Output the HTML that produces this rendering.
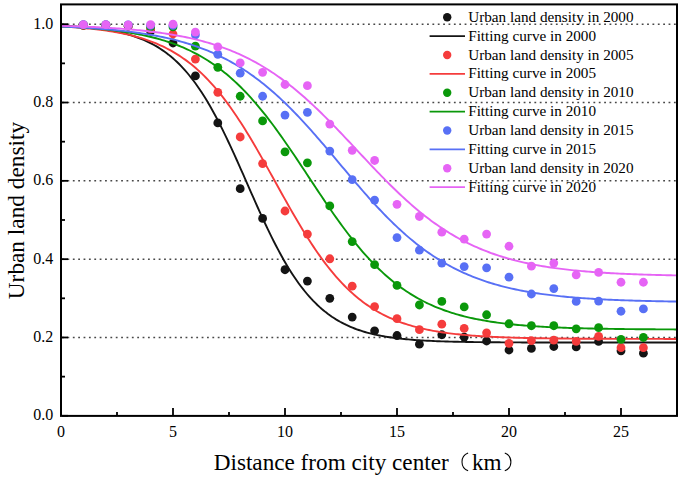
<!DOCTYPE html>
<html><head><meta charset="utf-8"><title>Urban land density</title><style>
html,body{margin:0;padding:0;background:#fff;}
body{width:685px;height:482px;overflow:hidden;}
svg{display:block;}
text{font-family:"Liberation Serif",serif;fill:#000;}
</style></head><body>
<svg width="685" height="482" viewBox="0 0 685 482">
<defs><clipPath id="pc"><rect x="62" y="5.4" width="614" height="409.5"/></clipPath></defs>
<g stroke="#484848" stroke-width="1.45" stroke-dasharray="1.8 3.567" fill="none">
<line x1="62.1" y1="337.48" x2="676" y2="337.48"/>
<line x1="62.1" y1="259.16" x2="676" y2="259.16"/>
<line x1="62.1" y1="180.84" x2="676" y2="180.84"/>
<line x1="62.1" y1="102.52" x2="676" y2="102.52"/>
<line x1="62.1" y1="24.20" x2="676" y2="24.20"/>
</g>
<g clip-path="url(#pc)">
<g fill="#141414"><circle cx="83.40" cy="25.37" r="4.4"/><circle cx="105.80" cy="25.37" r="4.4"/><circle cx="128.20" cy="26.16" r="4.4"/><circle cx="150.60" cy="31.25" r="4.4"/><circle cx="173.00" cy="43.00" r="4.4"/><circle cx="195.40" cy="75.89" r="4.4"/><circle cx="217.80" cy="122.88" r="4.4"/><circle cx="240.20" cy="188.67" r="4.4"/><circle cx="262.60" cy="218.43" r="4.4"/><circle cx="285.00" cy="269.73" r="4.4"/><circle cx="307.40" cy="281.09" r="4.4"/><circle cx="329.80" cy="298.32" r="4.4"/><circle cx="352.20" cy="317.12" r="4.4"/><circle cx="374.60" cy="330.82" r="4.4"/><circle cx="397.00" cy="335.52" r="4.4"/><circle cx="419.40" cy="344.14" r="4.4"/><circle cx="441.80" cy="334.74" r="4.4"/><circle cx="464.20" cy="337.09" r="4.4"/><circle cx="486.60" cy="341.00" r="4.4"/><circle cx="509.00" cy="350.01" r="4.4"/><circle cx="531.40" cy="348.44" r="4.4"/><circle cx="553.80" cy="346.49" r="4.4"/><circle cx="576.20" cy="346.88" r="4.4"/><circle cx="598.60" cy="341.40" r="4.4"/><circle cx="621.00" cy="350.79" r="4.4"/><circle cx="643.40" cy="353.14" r="4.4"/></g>
<polyline fill="none" stroke="#141414" stroke-width="1.9" stroke-linejoin="round" points="61.00,25.75 63.07,25.84 65.14,25.94 67.20,26.04 69.27,26.16 71.34,26.27 73.41,26.40 75.47,26.53 77.54,26.67 79.61,26.82 81.68,26.98 83.74,27.15 85.81,27.33 87.88,27.52 89.95,27.72 92.02,27.93 94.08,28.15 96.15,28.39 98.22,28.64 100.29,28.91 102.35,29.19 104.42,29.49 106.49,29.81 108.56,30.14 110.62,30.50 112.69,30.87 114.76,31.27 116.83,31.69 118.90,32.14 120.96,32.61 123.03,33.10 125.10,33.63 127.17,34.19 129.23,34.77 131.30,35.40 133.37,36.05 135.44,36.75 137.50,37.48 139.57,38.25 141.64,39.07 143.71,39.93 145.78,40.84 147.84,41.80 149.91,42.81 151.98,43.87 154.05,44.99 156.11,46.17 158.18,47.41 160.25,48.71 162.32,50.09 164.38,51.53 166.45,53.04 168.52,54.63 170.59,56.30 172.66,58.04 174.72,59.88 176.79,61.79 178.86,63.80 180.93,65.89 182.99,68.08 185.06,70.37 187.13,72.75 189.20,75.24 191.26,77.82 193.33,80.51 195.40,83.31 197.47,86.20 199.54,89.21 201.60,92.32 203.67,95.54 205.74,98.87 207.81,102.30 209.87,105.84 211.94,109.48 214.01,113.23 216.08,117.07 218.14,121.00 220.21,125.03 222.28,129.15 224.35,133.35 226.42,137.63 228.48,141.99 230.55,146.41 232.62,150.89 234.69,155.43 236.75,160.01 238.82,164.64 240.89,169.29 242.96,173.97 245.02,178.67 247.09,183.38 249.16,188.08 251.23,192.78 253.30,197.46 255.36,202.12 257.43,206.74 259.50,211.32 261.57,215.86 263.63,220.34 265.70,224.76 267.77,229.12 269.84,233.40 271.90,237.60 273.97,241.72 276.04,245.75 278.11,249.68 280.18,253.53 282.24,257.27 284.31,260.91 286.38,264.45 288.45,267.88 290.51,271.21 292.58,274.43 294.65,277.54 296.72,280.55 298.78,283.45 300.85,286.24 302.92,288.93 304.99,291.51 307.06,294.00 309.12,296.38 311.19,298.67 313.26,300.86 315.33,302.95 317.39,304.96 319.46,306.88 321.53,308.71 323.60,310.45 325.66,312.12 327.73,313.71 329.80,315.22 331.87,316.67 333.94,318.04 336.00,319.34 338.07,320.58 340.14,321.76 342.21,322.88 344.27,323.95 346.34,324.96 348.41,325.91 350.48,326.82 352.54,327.68 354.61,328.50 356.68,329.27 358.75,330.01 360.82,330.70 362.88,331.36 364.95,331.98 367.02,332.57 369.09,333.12 371.15,333.65 373.22,334.15 375.29,334.62 377.36,335.06 379.42,335.48 381.49,335.88 383.56,336.26 385.63,336.61 387.70,336.95 389.76,337.26 391.83,337.56 393.90,337.84 395.97,338.11 398.03,338.36 400.10,338.60 402.17,338.82 404.24,339.04 406.30,339.24 408.37,339.42 410.44,339.60 412.51,339.77 414.58,339.93 416.64,340.08 418.71,340.22 420.78,340.35 422.85,340.48 424.91,340.60 426.98,340.71 429.05,340.81 431.12,340.91 433.18,341.01 435.25,341.09 437.32,341.18 439.39,341.26 441.46,341.33 443.52,341.40 445.59,341.47 447.66,341.53 449.73,341.59 451.79,341.64 453.86,341.69 455.93,341.74 458.00,341.79 460.06,341.83 462.13,341.87 464.20,341.91 466.27,341.95 468.34,341.98 470.40,342.02 472.47,342.05 474.54,342.08 476.61,342.10 478.67,342.13 480.74,342.15 482.81,342.18 484.88,342.20 486.94,342.22 489.01,342.24 491.08,342.26 493.15,342.27 495.22,342.29 497.28,342.30 499.35,342.32 501.42,342.33 503.49,342.34 505.55,342.36 507.62,342.37 509.69,342.38 511.76,342.39 513.82,342.40 515.89,342.41 517.96,342.41 520.03,342.42 522.10,342.43 524.16,342.44 526.23,342.44 528.30,342.45 530.37,342.46 532.43,342.46 534.50,342.47 536.57,342.47 538.64,342.48 540.70,342.48 542.77,342.48 544.84,342.49 546.91,342.49 548.98,342.50 551.04,342.50 553.11,342.50 555.18,342.50 557.25,342.51 559.31,342.51 561.38,342.51 563.45,342.51 565.52,342.52 567.58,342.52 569.65,342.52 571.72,342.52 573.79,342.52 575.86,342.53 577.92,342.53 579.99,342.53 582.06,342.53 584.13,342.53 586.19,342.53 588.26,342.53 590.33,342.53 592.40,342.54 594.46,342.54 596.53,342.54 598.60,342.54 600.67,342.54 602.74,342.54 604.80,342.54 606.87,342.54 608.94,342.54 611.01,342.54 613.07,342.54 615.14,342.54 617.21,342.54 619.28,342.54 621.34,342.55 623.41,342.55 625.48,342.55 627.55,342.55 629.62,342.55 631.68,342.55 633.75,342.55 635.82,342.55 637.89,342.55 639.95,342.55 642.02,342.55 644.09,342.55 646.16,342.55 648.22,342.55 650.29,342.55 652.36,342.55 654.43,342.55 656.50,342.55 658.56,342.55 660.63,342.55 662.70,342.55 664.77,342.55 666.83,342.55 668.90,342.55 670.97,342.55 673.04,342.55 675.10,342.55 677.17,342.55 679.24,342.55"/>
<g fill="#F53C3C"><circle cx="83.40" cy="25.37" r="4.4"/><circle cx="105.80" cy="25.37" r="4.4"/><circle cx="128.20" cy="26.16" r="4.4"/><circle cx="150.60" cy="28.90" r="4.4"/><circle cx="173.00" cy="33.99" r="4.4"/><circle cx="195.40" cy="59.05" r="4.4"/><circle cx="217.80" cy="92.34" r="4.4"/><circle cx="240.20" cy="136.98" r="4.4"/><circle cx="262.60" cy="163.61" r="4.4"/><circle cx="285.00" cy="210.99" r="4.4"/><circle cx="307.40" cy="234.10" r="4.4"/><circle cx="329.80" cy="258.77" r="4.4"/><circle cx="352.20" cy="286.18" r="4.4"/><circle cx="374.60" cy="306.54" r="4.4"/><circle cx="397.00" cy="318.68" r="4.4"/><circle cx="419.40" cy="329.65" r="4.4"/><circle cx="441.80" cy="324.17" r="4.4"/><circle cx="464.20" cy="328.47" r="4.4"/><circle cx="486.60" cy="332.78" r="4.4"/><circle cx="509.00" cy="343.35" r="4.4"/><circle cx="531.40" cy="340.61" r="4.4"/><circle cx="553.80" cy="340.22" r="4.4"/><circle cx="576.20" cy="341.40" r="4.4"/><circle cx="598.60" cy="336.31" r="4.4"/><circle cx="621.00" cy="347.66" r="4.4"/><circle cx="643.40" cy="347.66" r="4.4"/></g>
<polyline fill="none" stroke="#F53C3C" stroke-width="1.9" stroke-linejoin="round" points="61.00,26.50 63.07,26.61 65.14,26.73 67.20,26.85 69.27,26.98 71.34,27.11 73.41,27.25 75.47,27.40 77.54,27.55 79.61,27.71 81.68,27.88 83.74,28.06 85.81,28.24 87.88,28.44 89.95,28.64 92.02,28.85 94.08,29.08 96.15,29.31 98.22,29.55 100.29,29.81 102.35,30.08 104.42,30.36 106.49,30.65 108.56,30.96 110.62,31.28 112.69,31.61 114.76,31.96 116.83,32.33 118.90,32.71 120.96,33.12 123.03,33.54 125.10,33.98 127.17,34.43 129.23,34.91 131.30,35.42 133.37,35.94 135.44,36.49 137.50,37.06 139.57,37.66 141.64,38.28 143.71,38.94 145.78,39.62 147.84,40.33 149.91,41.07 151.98,41.84 154.05,42.65 156.11,43.49 158.18,44.37 160.25,45.28 162.32,46.23 164.38,47.22 166.45,48.26 168.52,49.33 170.59,50.45 172.66,51.61 174.72,52.83 176.79,54.08 178.86,55.39 180.93,56.75 182.99,58.16 185.06,59.62 187.13,61.14 189.20,62.72 191.26,64.35 193.33,66.04 195.40,67.79 197.47,69.60 199.54,71.48 201.60,73.41 203.67,75.41 205.74,77.48 207.81,79.61 209.87,81.81 211.94,84.08 214.01,86.41 216.08,88.81 218.14,91.28 220.21,93.82 222.28,96.42 224.35,99.10 226.42,101.84 228.48,104.65 230.55,107.52 232.62,110.46 234.69,113.46 236.75,116.52 238.82,119.65 240.89,122.83 242.96,126.07 245.02,129.36 247.09,132.71 249.16,136.11 251.23,139.55 253.30,143.04 255.36,146.57 257.43,150.13 259.50,153.73 261.57,157.36 263.63,161.02 265.70,164.70 267.77,168.39 269.84,172.11 271.90,175.83 273.97,179.56 276.04,183.29 278.11,187.02 280.18,190.74 282.24,194.46 284.31,198.16 286.38,201.84 288.45,205.50 290.51,209.13 292.58,212.73 294.65,216.30 296.72,219.83 298.78,223.32 300.85,226.77 302.92,230.17 304.99,233.52 307.06,236.82 309.12,240.06 311.19,243.25 313.26,246.38 315.33,249.45 317.39,252.46 319.46,255.40 321.53,258.28 323.60,261.09 325.66,263.84 327.73,266.52 329.80,269.13 331.87,271.67 333.94,274.15 336.00,276.55 338.07,278.89 340.14,281.17 342.21,283.37 344.27,285.51 346.34,287.58 348.41,289.59 350.48,291.53 352.54,293.41 354.61,295.23 356.68,296.98 358.75,298.68 360.82,300.31 362.88,301.89 364.95,303.42 367.02,304.89 369.09,306.30 371.15,307.66 373.22,308.97 375.29,310.24 377.36,311.45 379.42,312.62 381.49,313.74 383.56,314.82 385.63,315.86 387.70,316.85 389.76,317.81 391.83,318.72 393.90,319.60 395.97,320.45 398.03,321.26 400.10,322.03 402.17,322.78 404.24,323.49 406.30,324.17 408.37,324.83 410.44,325.46 412.51,326.06 414.58,326.63 416.64,327.18 418.71,327.71 420.78,328.21 422.85,328.69 424.91,329.15 426.98,329.59 429.05,330.02 431.12,330.42 433.18,330.81 435.25,331.17 437.32,331.53 439.39,331.86 441.46,332.19 443.52,332.49 445.59,332.79 447.66,333.07 449.73,333.34 451.79,333.59 453.86,333.84 455.93,334.07 458.00,334.30 460.06,334.51 462.13,334.71 464.20,334.91 466.27,335.09 468.34,335.27 470.40,335.44 472.47,335.60 474.54,335.76 476.61,335.90 478.67,336.04 480.74,336.18 482.81,336.31 484.88,336.43 486.94,336.54 489.01,336.66 491.08,336.76 493.15,336.86 495.22,336.96 497.28,337.05 499.35,337.14 501.42,337.23 503.49,337.31 505.55,337.38 507.62,337.46 509.69,337.53 511.76,337.59 513.82,337.66 515.89,337.72 517.96,337.77 520.03,337.83 522.10,337.88 524.16,337.93 526.23,337.98 528.30,338.02 530.37,338.07 532.43,338.11 534.50,338.15 536.57,338.19 538.64,338.22 540.70,338.26 542.77,338.29 544.84,338.32 546.91,338.35 548.98,338.38 551.04,338.41 553.11,338.43 555.18,338.46 557.25,338.48 559.31,338.50 561.38,338.53 563.45,338.55 565.52,338.57 567.58,338.58 569.65,338.60 571.72,338.62 573.79,338.63 575.86,338.65 577.92,338.66 579.99,338.68 582.06,338.69 584.13,338.70 586.19,338.72 588.26,338.73 590.33,338.74 592.40,338.75 594.46,338.76 596.53,338.77 598.60,338.78 600.67,338.79 602.74,338.80 604.80,338.80 606.87,338.81 608.94,338.82 611.01,338.83 613.07,338.83 615.14,338.84 617.21,338.84 619.28,338.85 621.34,338.86 623.41,338.86 625.48,338.87 627.55,338.87 629.62,338.87 631.68,338.88 633.75,338.88 635.82,338.89 637.89,338.89 639.95,338.89 642.02,338.90 644.09,338.90 646.16,338.90 648.22,338.91 650.29,338.91 652.36,338.91 654.43,338.92 656.50,338.92 658.56,338.92 660.63,338.92 662.70,338.92 664.77,338.93 666.83,338.93 668.90,338.93 670.97,338.93 673.04,338.93 675.10,338.93 677.17,338.94 679.24,338.94"/>
<g fill="#0A980A"><circle cx="83.40" cy="24.98" r="4.4"/><circle cx="105.80" cy="24.98" r="4.4"/><circle cx="128.20" cy="25.37" r="4.4"/><circle cx="150.60" cy="26.94" r="4.4"/><circle cx="173.00" cy="26.94" r="4.4"/><circle cx="195.40" cy="46.13" r="4.4"/><circle cx="217.80" cy="67.28" r="4.4"/><circle cx="240.20" cy="96.25" r="4.4"/><circle cx="262.60" cy="120.93" r="4.4"/><circle cx="285.00" cy="151.86" r="4.4"/><circle cx="307.40" cy="162.83" r="4.4"/><circle cx="329.80" cy="205.90" r="4.4"/><circle cx="352.20" cy="241.54" r="4.4"/><circle cx="374.60" cy="264.64" r="4.4"/><circle cx="397.00" cy="285.40" r="4.4"/><circle cx="419.40" cy="304.98" r="4.4"/><circle cx="441.80" cy="301.45" r="4.4"/><circle cx="464.20" cy="306.94" r="4.4"/><circle cx="486.60" cy="314.77" r="4.4"/><circle cx="509.00" cy="323.77" r="4.4"/><circle cx="531.40" cy="325.73" r="4.4"/><circle cx="553.80" cy="325.73" r="4.4"/><circle cx="576.20" cy="328.86" r="4.4"/><circle cx="598.60" cy="327.69" r="4.4"/><circle cx="621.00" cy="339.44" r="4.4"/><circle cx="643.40" cy="337.48" r="4.4"/></g>
<polyline fill="none" stroke="#0A980A" stroke-width="1.9" stroke-linejoin="round" points="61.00,26.42 63.07,26.51 65.14,26.61 67.20,26.71 69.27,26.81 71.34,26.92 73.41,27.03 75.47,27.15 77.54,27.27 79.61,27.40 81.68,27.53 83.74,27.67 85.81,27.81 87.88,27.96 89.95,28.12 92.02,28.28 94.08,28.45 96.15,28.63 98.22,28.81 100.29,29.00 102.35,29.20 104.42,29.40 106.49,29.62 108.56,29.84 110.62,30.07 112.69,30.31 114.76,30.56 116.83,30.82 118.90,31.09 120.96,31.38 123.03,31.67 125.10,31.98 127.17,32.29 129.23,32.62 131.30,32.97 133.37,33.32 135.44,33.69 137.50,34.08 139.57,34.48 141.64,34.89 143.71,35.32 145.78,35.77 147.84,36.24 149.91,36.72 151.98,37.23 154.05,37.75 156.11,38.29 158.18,38.85 160.25,39.43 162.32,40.04 164.38,40.67 166.45,41.32 168.52,41.99 170.59,42.70 172.66,43.42 174.72,44.17 176.79,44.96 178.86,45.76 180.93,46.60 182.99,47.47 185.06,48.37 187.13,49.30 189.20,50.26 191.26,51.25 193.33,52.28 195.40,53.35 197.47,54.45 199.54,55.59 201.60,56.76 203.67,57.98 205.74,59.23 207.81,60.52 209.87,61.86 211.94,63.23 214.01,64.65 216.08,66.12 218.14,67.62 220.21,69.17 222.28,70.77 224.35,72.42 226.42,74.11 228.48,75.84 230.55,77.63 232.62,79.46 234.69,81.35 236.75,83.28 238.82,85.26 240.89,87.29 242.96,89.37 245.02,91.50 247.09,93.68 249.16,95.91 251.23,98.18 253.30,100.51 255.36,102.89 257.43,105.31 259.50,107.78 261.57,110.29 263.63,112.85 265.70,115.46 267.77,118.11 269.84,120.80 271.90,123.53 273.97,126.30 276.04,129.11 278.11,131.96 280.18,134.84 282.24,137.75 284.31,140.69 286.38,143.67 288.45,146.67 290.51,149.69 292.58,152.74 294.65,155.80 296.72,158.89 298.78,161.98 300.85,165.10 302.92,168.22 304.99,171.34 307.06,174.48 309.12,177.61 311.19,180.75 313.26,183.88 315.33,187.00 317.39,190.12 319.46,193.23 321.53,196.32 323.60,199.39 325.66,202.45 327.73,205.49 329.80,208.50 331.87,211.49 333.94,214.45 336.00,217.38 338.07,220.28 340.14,223.15 342.21,225.97 344.27,228.77 346.34,231.52 348.41,234.24 350.48,236.91 352.54,239.54 354.61,242.12 356.68,244.67 358.75,247.16 360.82,249.61 362.88,252.01 364.95,254.36 367.02,256.67 369.09,258.92 371.15,261.13 373.22,263.29 375.29,265.40 377.36,267.45 379.42,269.46 381.49,271.42 383.56,273.33 385.63,275.19 387.70,277.01 389.76,278.77 391.83,280.49 393.90,282.16 395.97,283.78 398.03,285.36 400.10,286.89 402.17,288.38 404.24,289.82 406.30,291.22 408.37,292.58 410.44,293.90 412.51,295.17 414.58,296.41 416.64,297.60 418.71,298.76 420.78,299.88 422.85,300.97 424.91,302.02 426.98,303.03 429.05,304.01 431.12,304.96 433.18,305.87 435.25,306.76 437.32,307.61 439.39,308.44 441.46,309.23 443.52,310.00 445.59,310.74 447.66,311.46 449.73,312.15 451.79,312.81 453.86,313.45 455.93,314.07 458.00,314.67 460.06,315.24 462.13,315.79 464.20,316.33 466.27,316.84 468.34,317.33 470.40,317.81 472.47,318.27 474.54,318.71 476.61,319.13 478.67,319.54 480.74,319.94 482.81,320.31 484.88,320.68 486.94,321.03 489.01,321.37 491.08,321.69 493.15,322.00 495.22,322.30 497.28,322.59 499.35,322.87 501.42,323.13 503.49,323.39 505.55,323.64 507.62,323.87 509.69,324.10 511.76,324.32 513.82,324.53 515.89,324.73 517.96,324.93 520.03,325.11 522.10,325.29 524.16,325.47 526.23,325.63 528.30,325.79 530.37,325.94 532.43,326.09 534.50,326.23 536.57,326.37 538.64,326.50 540.70,326.62 542.77,326.74 544.84,326.86 546.91,326.97 548.98,327.08 551.04,327.18 553.11,327.28 555.18,327.37 557.25,327.46 559.31,327.55 561.38,327.63 563.45,327.71 565.52,327.79 567.58,327.86 569.65,327.94 571.72,328.00 573.79,328.07 575.86,328.13 577.92,328.19 579.99,328.25 582.06,328.31 584.13,328.36 586.19,328.41 588.26,328.46 590.33,328.51 592.40,328.55 594.46,328.60 596.53,328.64 598.60,328.68 600.67,328.72 602.74,328.75 604.80,328.79 606.87,328.82 608.94,328.86 611.01,328.89 613.07,328.92 615.14,328.95 617.21,328.98 619.28,329.00 621.34,329.03 623.41,329.05 625.48,329.08 627.55,329.10 629.62,329.12 631.68,329.14 633.75,329.16 635.82,329.18 637.89,329.20 639.95,329.22 642.02,329.23 644.09,329.25 646.16,329.27 648.22,329.28 650.29,329.30 652.36,329.31 654.43,329.32 656.50,329.34 658.56,329.35 660.63,329.36 662.70,329.37 664.77,329.38 666.83,329.39 668.90,329.40 670.97,329.41 673.04,329.42 675.10,329.43 677.17,329.44 679.24,329.45"/>
<g fill="#5870F5"><circle cx="83.40" cy="24.59" r="4.4"/><circle cx="105.80" cy="24.59" r="4.4"/><circle cx="128.20" cy="24.98" r="4.4"/><circle cx="150.60" cy="25.37" r="4.4"/><circle cx="173.00" cy="25.37" r="4.4"/><circle cx="195.40" cy="34.77" r="4.4"/><circle cx="217.80" cy="54.35" r="4.4"/><circle cx="240.20" cy="73.15" r="4.4"/><circle cx="262.60" cy="96.25" r="4.4"/><circle cx="285.00" cy="115.05" r="4.4"/><circle cx="307.40" cy="112.31" r="4.4"/><circle cx="329.80" cy="151.08" r="4.4"/><circle cx="352.20" cy="179.67" r="4.4"/><circle cx="374.60" cy="200.03" r="4.4"/><circle cx="397.00" cy="237.62" r="4.4"/><circle cx="419.40" cy="250.15" r="4.4"/><circle cx="441.80" cy="263.08" r="4.4"/><circle cx="464.20" cy="266.60" r="4.4"/><circle cx="486.60" cy="267.78" r="4.4"/><circle cx="509.00" cy="277.17" r="4.4"/><circle cx="531.40" cy="294.01" r="4.4"/><circle cx="553.80" cy="288.53" r="4.4"/><circle cx="576.20" cy="301.45" r="4.4"/><circle cx="598.60" cy="301.06" r="4.4"/><circle cx="621.00" cy="311.24" r="4.4"/><circle cx="643.40" cy="308.89" r="4.4"/></g>
<polyline fill="none" stroke="#5870F5" stroke-width="1.9" stroke-linejoin="round" points="61.00,26.56 63.07,26.64 65.14,26.73 67.20,26.82 69.27,26.91 71.34,27.01 73.41,27.11 75.47,27.21 77.54,27.32 79.61,27.43 81.68,27.55 83.74,27.66 85.81,27.79 87.88,27.92 89.95,28.05 92.02,28.18 94.08,28.33 96.15,28.47 98.22,28.62 100.29,28.78 102.35,28.94 104.42,29.11 106.49,29.28 108.56,29.46 110.62,29.65 112.69,29.84 114.76,30.04 116.83,30.25 118.90,30.46 120.96,30.68 123.03,30.91 125.10,31.14 127.17,31.39 129.23,31.64 131.30,31.90 133.37,32.17 135.44,32.45 137.50,32.73 139.57,33.03 141.64,33.34 143.71,33.66 145.78,33.99 147.84,34.33 149.91,34.68 151.98,35.04 154.05,35.41 156.11,35.80 158.18,36.20 160.25,36.61 162.32,37.04 164.38,37.48 166.45,37.93 168.52,38.40 170.59,38.89 172.66,39.39 174.72,39.90 176.79,40.44 178.86,40.99 180.93,41.55 182.99,42.14 185.06,42.74 187.13,43.36 189.20,44.00 191.26,44.67 193.33,45.35 195.40,46.05 197.47,46.77 199.54,47.52 201.60,48.28 203.67,49.07 205.74,49.89 207.81,50.72 209.87,51.58 211.94,52.47 214.01,53.38 216.08,54.32 218.14,55.28 220.21,56.27 222.28,57.29 224.35,58.34 226.42,59.41 228.48,60.51 230.55,61.65 232.62,62.81 234.69,64.00 236.75,65.22 238.82,66.47 240.89,67.76 242.96,69.07 245.02,70.42 247.09,71.80 249.16,73.21 251.23,74.66 253.30,76.14 255.36,77.65 257.43,79.19 259.50,80.77 261.57,82.38 263.63,84.03 265.70,85.70 267.77,87.42 269.84,89.16 271.90,90.94 273.97,92.75 276.04,94.60 278.11,96.47 280.18,98.38 282.24,100.32 284.31,102.29 286.38,104.30 288.45,106.33 290.51,108.39 292.58,110.49 294.65,112.61 296.72,114.75 298.78,116.93 300.85,119.13 302.92,121.35 304.99,123.60 307.06,125.87 309.12,128.17 311.19,130.48 313.26,132.82 315.33,135.17 317.39,137.54 319.46,139.92 321.53,142.32 323.60,144.73 325.66,147.15 327.73,149.59 329.80,152.03 331.87,154.47 333.94,156.93 336.00,159.39 338.07,161.85 340.14,164.31 342.21,166.77 344.27,169.23 346.34,171.68 348.41,174.13 350.48,176.57 352.54,179.01 354.61,181.43 356.68,183.84 358.75,186.24 360.82,188.63 362.88,191.00 364.95,193.36 367.02,195.70 369.09,198.01 371.15,200.31 373.22,202.59 375.29,204.84 377.36,207.07 379.42,209.27 381.49,211.45 383.56,213.61 385.63,215.73 387.70,217.83 389.76,219.90 391.83,221.94 393.90,223.95 395.97,225.92 398.03,227.87 400.10,229.79 402.17,231.67 404.24,233.52 406.30,235.34 408.37,237.12 410.44,238.87 412.51,240.59 414.58,242.28 416.64,243.93 418.71,245.54 420.78,247.13 422.85,248.68 424.91,250.20 426.98,251.68 429.05,253.13 431.12,254.55 433.18,255.94 435.25,257.29 437.32,258.61 439.39,259.90 441.46,261.16 443.52,262.39 445.59,263.59 447.66,264.75 449.73,265.89 451.79,267.00 453.86,268.08 455.93,269.13 458.00,270.15 460.06,271.15 462.13,272.12 464.20,273.06 466.27,273.97 468.34,274.87 470.40,275.73 472.47,276.57 474.54,277.39 476.61,278.18 478.67,278.96 480.74,279.70 482.81,280.43 484.88,281.14 486.94,281.82 489.01,282.49 491.08,283.13 493.15,283.76 495.22,284.36 497.28,284.95 499.35,285.52 501.42,286.08 503.49,286.61 505.55,287.13 507.62,287.63 509.69,288.12 511.76,288.59 513.82,289.05 515.89,289.49 517.96,289.92 520.03,290.34 522.10,290.74 524.16,291.13 526.23,291.51 528.30,291.87 530.37,292.22 532.43,292.57 534.50,292.90 536.57,293.22 538.64,293.53 540.70,293.83 542.77,294.12 544.84,294.40 546.91,294.67 548.98,294.93 551.04,295.18 553.11,295.43 555.18,295.66 557.25,295.89 559.31,296.11 561.38,296.33 563.45,296.54 565.52,296.74 567.58,296.93 569.65,297.12 571.72,297.30 573.79,297.47 575.86,297.64 577.92,297.80 579.99,297.96 582.06,298.11 584.13,298.26 586.19,298.40 588.26,298.54 590.33,298.67 592.40,298.80 594.46,298.93 596.53,299.05 598.60,299.16 600.67,299.27 602.74,299.38 604.80,299.49 606.87,299.59 608.94,299.68 611.01,299.78 613.07,299.87 615.14,299.96 617.21,300.04 619.28,300.12 621.34,300.20 623.41,300.28 625.48,300.35 627.55,300.42 629.62,300.49 631.68,300.56 633.75,300.62 635.82,300.68 637.89,300.74 639.95,300.80 642.02,300.86 644.09,300.91 646.16,300.96 648.22,301.01 650.29,301.06 652.36,301.11 654.43,301.15 656.50,301.20 658.56,301.24 660.63,301.28 662.70,301.32 664.77,301.36 666.83,301.39 668.90,301.43 670.97,301.46 673.04,301.50 675.10,301.53 677.17,301.56 679.24,301.59"/>
<g fill="#E664F5"><circle cx="83.40" cy="24.59" r="4.4"/><circle cx="105.80" cy="24.59" r="4.4"/><circle cx="128.20" cy="24.98" r="4.4"/><circle cx="150.60" cy="24.59" r="4.4"/><circle cx="173.00" cy="24.20" r="4.4"/><circle cx="195.40" cy="32.03" r="4.4"/><circle cx="217.80" cy="46.91" r="4.4"/><circle cx="240.20" cy="62.97" r="4.4"/><circle cx="262.60" cy="72.37" r="4.4"/><circle cx="285.00" cy="84.51" r="4.4"/><circle cx="307.40" cy="85.68" r="4.4"/><circle cx="329.80" cy="124.06" r="4.4"/><circle cx="352.20" cy="150.30" r="4.4"/><circle cx="374.60" cy="160.48" r="4.4"/><circle cx="397.00" cy="204.34" r="4.4"/><circle cx="419.40" cy="216.48" r="4.4"/><circle cx="441.80" cy="232.14" r="4.4"/><circle cx="464.20" cy="239.19" r="4.4"/><circle cx="486.60" cy="234.10" r="4.4"/><circle cx="509.00" cy="246.24" r="4.4"/><circle cx="531.40" cy="266.21" r="4.4"/><circle cx="553.80" cy="263.08" r="4.4"/><circle cx="576.20" cy="274.82" r="4.4"/><circle cx="598.60" cy="272.47" r="4.4"/><circle cx="621.00" cy="282.26" r="4.4"/><circle cx="643.40" cy="282.26" r="4.4"/></g>
<polyline fill="none" stroke="#E664F5" stroke-width="1.9" stroke-linejoin="round" points="61.00,25.83 63.07,25.89 65.14,25.95 67.20,26.01 69.27,26.08 71.34,26.14 73.41,26.21 75.47,26.29 77.54,26.36 79.61,26.44 81.68,26.51 83.74,26.60 85.81,26.68 87.88,26.77 89.95,26.86 92.02,26.95 94.08,27.05 96.15,27.15 98.22,27.26 100.29,27.37 102.35,27.48 104.42,27.59 106.49,27.71 108.56,27.84 110.62,27.96 112.69,28.10 114.76,28.23 116.83,28.38 118.90,28.52 120.96,28.67 123.03,28.83 125.10,28.99 127.17,29.16 129.23,29.34 131.30,29.52 133.37,29.70 135.44,29.89 137.50,30.09 139.57,30.30 141.64,30.51 143.71,30.73 145.78,30.96 147.84,31.19 149.91,31.44 151.98,31.69 154.05,31.95 156.11,32.22 158.18,32.49 160.25,32.78 162.32,33.08 164.38,33.38 166.45,33.70 168.52,34.02 170.59,34.36 172.66,34.71 174.72,35.07 176.79,35.44 178.86,35.82 180.93,36.22 182.99,36.63 185.06,37.05 187.13,37.49 189.20,37.94 191.26,38.40 193.33,38.88 195.40,39.37 197.47,39.88 199.54,40.41 201.60,40.95 203.67,41.51 205.74,42.08 207.81,42.67 209.87,43.28 211.94,43.91 214.01,44.56 216.08,45.23 218.14,45.92 220.21,46.62 222.28,47.35 224.35,48.10 226.42,48.87 228.48,49.67 230.55,50.48 232.62,51.32 234.69,52.19 236.75,53.07 238.82,53.98 240.89,54.92 242.96,55.88 245.02,56.87 247.09,57.88 249.16,58.92 251.23,59.98 253.30,61.08 255.36,62.20 257.43,63.34 259.50,64.52 261.57,65.72 263.63,66.96 265.70,68.22 267.77,69.51 269.84,70.83 271.90,72.19 273.97,73.57 276.04,74.98 278.11,76.42 280.18,77.89 282.24,79.39 284.31,80.92 286.38,82.48 288.45,84.07 290.51,85.69 292.58,87.34 294.65,89.01 296.72,90.72 298.78,92.46 300.85,94.22 302.92,96.01 304.99,97.83 307.06,99.68 309.12,101.55 311.19,103.45 313.26,105.37 315.33,107.32 317.39,109.29 319.46,111.28 321.53,113.30 323.60,115.33 325.66,117.39 327.73,119.46 329.80,121.56 331.87,123.66 333.94,125.79 336.00,127.93 338.07,130.08 340.14,132.25 342.21,134.43 344.27,136.61 346.34,138.81 348.41,141.01 350.48,143.21 352.54,145.43 354.61,147.64 356.68,149.86 358.75,152.07 360.82,154.29 362.88,156.50 364.95,158.71 367.02,160.92 369.09,163.12 371.15,165.31 373.22,167.49 375.29,169.66 377.36,171.82 379.42,173.96 381.49,176.09 383.56,178.21 385.63,180.31 387.70,182.39 389.76,184.46 391.83,186.50 393.90,188.53 395.97,190.53 398.03,192.51 400.10,194.47 402.17,196.40 404.24,198.31 406.30,200.20 408.37,202.05 410.44,203.88 412.51,205.69 414.58,207.46 416.64,209.21 418.71,210.93 420.78,212.62 422.85,214.29 424.91,215.92 426.98,217.52 429.05,219.10 431.12,220.64 433.18,222.15 435.25,223.64 437.32,225.09 439.39,226.51 441.46,227.91 443.52,229.27 445.59,230.61 447.66,231.91 449.73,233.19 451.79,234.43 453.86,235.65 455.93,236.84 458.00,238.00 460.06,239.14 462.13,240.24 464.20,241.32 466.27,242.37 468.34,243.39 470.40,244.39 472.47,245.36 474.54,246.31 476.61,247.23 478.67,248.13 480.74,249.00 482.81,249.85 484.88,250.68 486.94,251.48 489.01,252.26 491.08,253.02 493.15,253.76 495.22,254.48 497.28,255.17 499.35,255.85 501.42,256.51 503.49,257.15 505.55,257.76 507.62,258.37 509.69,258.95 511.76,259.51 513.82,260.06 515.89,260.59 517.96,261.11 520.03,261.61 522.10,262.10 524.16,262.57 526.23,263.02 528.30,263.46 530.37,263.89 532.43,264.31 534.50,264.71 536.57,265.10 538.64,265.47 540.70,265.84 542.77,266.19 544.84,266.53 546.91,266.87 548.98,267.19 551.04,267.50 553.11,267.80 555.18,268.09 557.25,268.37 559.31,268.64 561.38,268.91 563.45,269.16 565.52,269.41 567.58,269.65 569.65,269.88 571.72,270.10 573.79,270.32 575.86,270.52 577.92,270.73 579.99,270.92 582.06,271.11 584.13,271.29 586.19,271.47 588.26,271.64 590.33,271.81 592.40,271.96 594.46,272.12 596.53,272.27 598.60,272.41 600.67,272.55 602.74,272.69 604.80,272.82 606.87,272.94 608.94,273.06 611.01,273.18 613.07,273.29 615.14,273.40 617.21,273.51 619.28,273.61 621.34,273.71 623.41,273.81 625.48,273.90 627.55,273.99 629.62,274.07 631.68,274.16 633.75,274.24 635.82,274.32 637.89,274.39 639.95,274.46 642.02,274.53 644.09,274.60 646.16,274.67 648.22,274.73 650.29,274.79 652.36,274.85 654.43,274.91 656.50,274.96 658.56,275.01 660.63,275.07 662.70,275.12 664.77,275.16 666.83,275.21 668.90,275.25 670.97,275.30 673.04,275.34 675.10,275.38 677.17,275.42 679.24,275.46"/>
</g>
<rect x="61" y="4.4" width="616" height="411.5" fill="none" stroke="#000" stroke-width="2"/>
<g stroke="#000" stroke-width="1.8">
<line x1="62" y1="415.80" x2="68" y2="415.80"/><line x1="62" y1="337.48" x2="68" y2="337.48"/><line x1="62" y1="259.16" x2="68" y2="259.16"/><line x1="62" y1="180.84" x2="68" y2="180.84"/><line x1="62" y1="102.52" x2="68" y2="102.52"/><line x1="62" y1="24.20" x2="68" y2="24.20"/><line x1="62" y1="376.64" x2="65" y2="376.64"/><line x1="62" y1="298.32" x2="65" y2="298.32"/><line x1="62" y1="220.00" x2="65" y2="220.00"/><line x1="62" y1="141.68" x2="65" y2="141.68"/><line x1="62" y1="63.36" x2="65" y2="63.36"/>
<line x1="61.00" y1="415" x2="61.00" y2="408"/><line x1="173.00" y1="415" x2="173.00" y2="408"/><line x1="285.00" y1="415" x2="285.00" y2="408"/><line x1="397.00" y1="415" x2="397.00" y2="408"/><line x1="509.00" y1="415" x2="509.00" y2="408"/><line x1="621.00" y1="415" x2="621.00" y2="408"/><line x1="117.00" y1="415" x2="117.00" y2="412"/><line x1="229.00" y1="415" x2="229.00" y2="412"/><line x1="341.00" y1="415" x2="341.00" y2="412"/><line x1="453.00" y1="415" x2="453.00" y2="412"/><line x1="565.00" y1="415" x2="565.00" y2="412"/><line x1="677.00" y1="415" x2="677.00" y2="412"/>
</g>
<g font-size="16">
<text x="53.2" y="420.20" text-anchor="end">0.0</text><text x="53.2" y="341.88" text-anchor="end">0.2</text><text x="53.2" y="263.56" text-anchor="end">0.4</text><text x="53.2" y="185.24" text-anchor="end">0.6</text><text x="53.2" y="106.92" text-anchor="end">0.8</text><text x="53.2" y="28.60" text-anchor="end">1.0</text>
<text x="61.00" y="436.6" text-anchor="middle">0</text><text x="173.00" y="436.6" text-anchor="middle">5</text><text x="285.00" y="436.6" text-anchor="middle">10</text><text x="397.00" y="436.6" text-anchor="middle">15</text><text x="509.00" y="436.6" text-anchor="middle">20</text><text x="621.00" y="436.6" text-anchor="middle">25</text>
</g>
<text font-size="23.3" transform="translate(23.8,299.2) rotate(-90)">Urban land density</text>
<text font-size="23.2" x="213.7" y="470.4">Distance from city center</text>
<text font-size="23.2" x="472" y="470.4">km</text>
<path d="M468.1,453.1 A9.4,9.4 0 0 0 468.1,470.7" fill="none" stroke="#000" stroke-width="1.05"/>
<path d="M504.8,453.1 A9.4,9.4 0 0 1 504.8,470.7" fill="none" stroke="#000" stroke-width="1.05"/>
<g font-size="15.2">
<circle cx="447.2" cy="17.30" r="4.2" fill="#141414"/><text x="468.2" y="21.80">Urban land density in 2000</text>
<line x1="429.6" y1="36.16" x2="465" y2="36.16" stroke="#141414" stroke-width="1.7"/><text x="468.2" y="40.66">Fitting curve in 2000</text>
<circle cx="447.2" cy="55.02" r="4.2" fill="#F53C3C"/><text x="468.2" y="59.52">Urban land density in 2005</text>
<line x1="429.6" y1="73.88" x2="465" y2="73.88" stroke="#F53C3C" stroke-width="1.7"/><text x="468.2" y="78.38">Fitting curve in 2005</text>
<circle cx="447.2" cy="92.74" r="4.2" fill="#0A980A"/><text x="468.2" y="97.24">Urban land density in 2010</text>
<line x1="429.6" y1="111.60" x2="465" y2="111.60" stroke="#0A980A" stroke-width="1.7"/><text x="468.2" y="116.10">Fitting curve in 2010</text>
<circle cx="447.2" cy="130.46" r="4.2" fill="#5870F5"/><text x="468.2" y="134.96">Urban land density in 2015</text>
<line x1="429.6" y1="149.32" x2="465" y2="149.32" stroke="#5870F5" stroke-width="1.7"/><text x="468.2" y="153.82">Fitting curve in 2015</text>
<circle cx="447.2" cy="168.18" r="4.2" fill="#E664F5"/><text x="468.2" y="172.68">Urban land density in 2020</text>
<line x1="429.6" y1="187.04" x2="465" y2="187.04" stroke="#E664F5" stroke-width="1.7"/><text x="468.2" y="191.54">Fitting curve in 2020</text>
</g>
</svg>
</body></html>
